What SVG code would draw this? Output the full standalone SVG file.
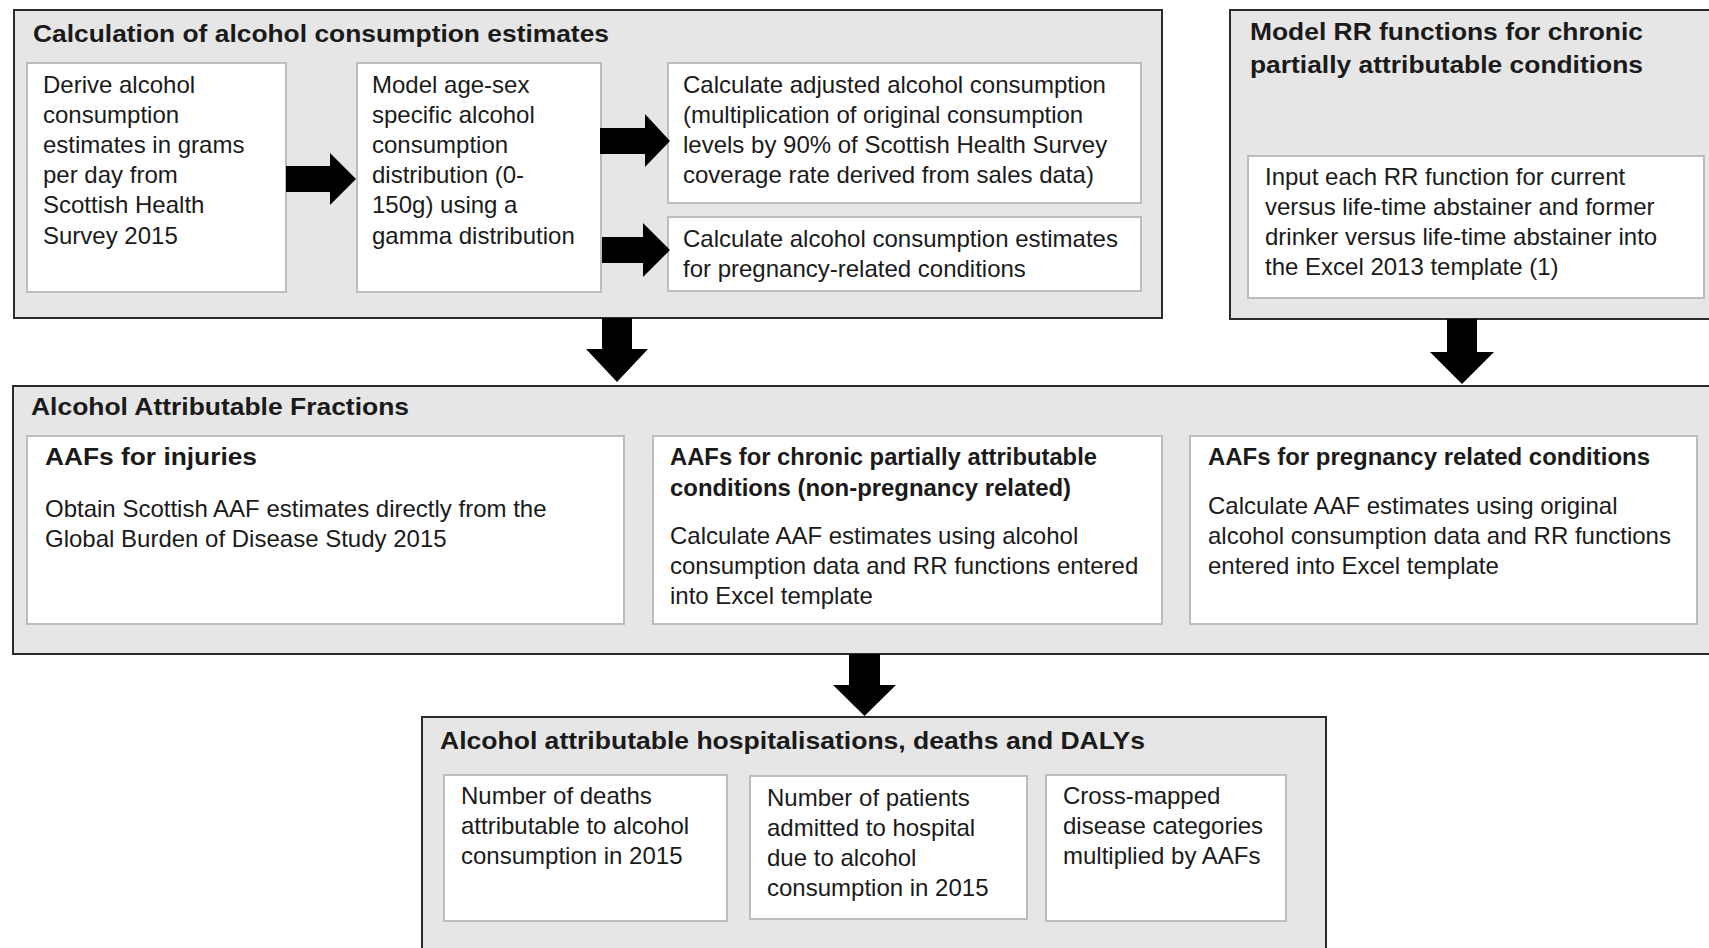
<svg xmlns="http://www.w3.org/2000/svg" width="1709" height="948" viewBox="0 0 1709 948">
<style>
.outer{fill:#e6e6e6;stroke:#2b2b2b;stroke-width:2}
.inner{fill:#ffffff;stroke:#bdbdbd;stroke-width:2}
text{font-family:"Liberation Sans",Arial,sans-serif;fill:#1a1a1a}
.t{font-size:24px}
.b{font-size:24.5px;font-weight:bold}
.arr{fill:#000000}
</style>
<rect x="0" y="0" width="1709" height="948" fill="#ffffff"/>

<g id="calc">
<rect class="outer" x="14" y="10" width="1148" height="308"/>
<text class="b" x="33" y="42" textLength="576" lengthAdjust="spacingAndGlyphs">Calculation of alcohol consumption estimates</text>
</g>
<g id="derive">
<rect class="inner" x="27" y="63" width="259" height="229"/>
<text class="t" x="43" y="92.5">Derive alcohol</text>
<text class="t" x="43" y="122.7">consumption</text>
<text class="t" x="43" y="152.9">estimates in grams</text>
<text class="t" x="43" y="183.1">per day from</text>
<text class="t" x="43" y="213.3">Scottish Health</text>
<text class="t" x="43" y="243.5">Survey 2015</text>
</g>
<g id="model">
<rect class="inner" x="357" y="63" width="244" height="229"/>
<text class="t" x="372" y="92.5">Model age-sex</text>
<text class="t" x="372" y="122.7">specific alcohol</text>
<text class="t" x="372" y="152.9">consumption</text>
<text class="t" x="372" y="183.1">distribution (0-</text>
<text class="t" x="372" y="213.3">150g) using a</text>
<text class="t" x="372" y="243.5">gamma distribution</text>
</g>
<g id="adjusted">
<rect class="inner" x="668" y="63" width="473" height="140"/>
<text class="t" x="683" y="92.5">Calculate adjusted alcohol consumption</text>
<text class="t" x="683" y="122.7">(multiplication of original consumption</text>
<text class="t" x="683" y="152.9">levels by 90% of Scottish Health Survey</text>
<text class="t" x="683" y="183.1">coverage rate derived from sales data)</text>
</g>
<g id="pregcons">
<rect class="inner" x="668" y="217" width="473" height="74"/>
<text class="t" x="683" y="246.5">Calculate alcohol consumption estimates</text>
<text class="t" x="683" y="276.5">for pregnancy-related conditions</text>
</g>

<g id="rrmodel">
<rect class="outer" x="1230" y="10" width="490" height="309"/>
<text class="b" x="1250" y="40" textLength="393" lengthAdjust="spacingAndGlyphs">Model RR functions for chronic</text>
<text class="b" x="1250" y="73" textLength="393" lengthAdjust="spacingAndGlyphs">partially attributable conditions</text>
</g>
<g id="rrinput">
<rect class="inner" x="1248" y="156" width="456" height="142"/>
<text class="t" x="1265" y="185">Input each RR function for current</text>
<text class="t" x="1265" y="215">versus life-time abstainer and former</text>
<text class="t" x="1265" y="245">drinker versus life-time abstainer into</text>
<text class="t" x="1265" y="275">the Excel 2013 template (1)</text>
</g>

<g id="aaf">
<rect class="outer" x="13" y="386" width="1710" height="268"/>
<text class="b" x="31" y="415" textLength="378" lengthAdjust="spacingAndGlyphs">Alcohol Attributable Fractions</text>
</g>
<g id="injuries">
<rect class="inner" x="27" y="436" width="597" height="188"/>
<text class="b" x="45" y="465" textLength="212" lengthAdjust="spacingAndGlyphs">AAFs for injuries</text>
<text class="t" x="45" y="517">Obtain Scottish AAF estimates directly from the</text>
<text class="t" x="45" y="547">Global Burden of Disease Study 2015</text>
</g>
<g id="chronic">
<rect class="inner" x="653" y="436" width="509" height="188"/>
<text class="b" x="670" y="465" textLength="427" lengthAdjust="spacingAndGlyphs">AAFs for chronic partially attributable</text>
<text class="b" x="670" y="496" textLength="401" lengthAdjust="spacingAndGlyphs">conditions (non-pregnancy related)</text>
<text class="t" x="670" y="544">Calculate AAF estimates using alcohol</text>
<text class="t" x="670" y="574">consumption data and RR functions entered</text>
<text class="t" x="670" y="604">into Excel template</text>
</g>
<g id="pregnancy">
<rect class="inner" x="1190" y="436" width="507" height="188"/>
<text class="b" x="1208" y="465" textLength="442" lengthAdjust="spacingAndGlyphs">AAFs for pregnancy related conditions</text>
<text class="t" x="1208" y="514">Calculate AAF estimates using original</text>
<text class="t" x="1208" y="544">alcohol consumption data and RR functions</text>
<text class="t" x="1208" y="574">entered into Excel template</text>
</g>

<g id="outcomes">
<rect class="outer" x="422" y="717" width="904" height="250"/>
<text class="b" x="440" y="749" textLength="705" lengthAdjust="spacingAndGlyphs">Alcohol attributable hospitalisations, deaths and DALYs</text>
</g>
<g id="deaths">
<rect class="inner" x="444" y="775" width="283" height="146"/>
<text class="t" x="461" y="804">Number of deaths</text>
<text class="t" x="461" y="834">attributable to alcohol</text>
<text class="t" x="461" y="864">consumption in 2015</text>
</g>
<g id="patients">
<rect class="inner" x="750" y="776" width="277" height="143"/>
<text class="t" x="767" y="806">Number of patients</text>
<text class="t" x="767" y="836">admitted to hospital</text>
<text class="t" x="767" y="866">due to alcohol</text>
<text class="t" x="767" y="896">consumption in 2015</text>
</g>
<g id="crossmapped">
<rect class="inner" x="1046" y="775" width="240" height="146"/>
<text class="t" x="1063" y="804">Cross-mapped</text>
<text class="t" x="1063" y="834">disease categories</text>
<text class="t" x="1063" y="864">multiplied by AAFs</text>
</g>

<g id="connectors">
<polygon class="arr" points="286,166 330,166 330,153 356,179 330,205 330,192 286,192"/>
<polygon class="arr" points="600,128 645,128 645,114 670,141 645,167 645,154 600,154"/>
<polygon class="arr" points="602,237 643,237 643,223 670,250 643,277 643,263 602,263"/>
<polygon class="arr" points="602,318 632,318 632,349 648,349 617,382 586,349 602,349"/>
<polygon class="arr" points="1447,319 1477,319 1477,352 1494,352 1462,384 1430,352 1447,352"/>
<polygon class="arr" points="849,654 880,654 880,685 896,685 864.5,716 833,685 849,685"/>
</g>
</svg>
